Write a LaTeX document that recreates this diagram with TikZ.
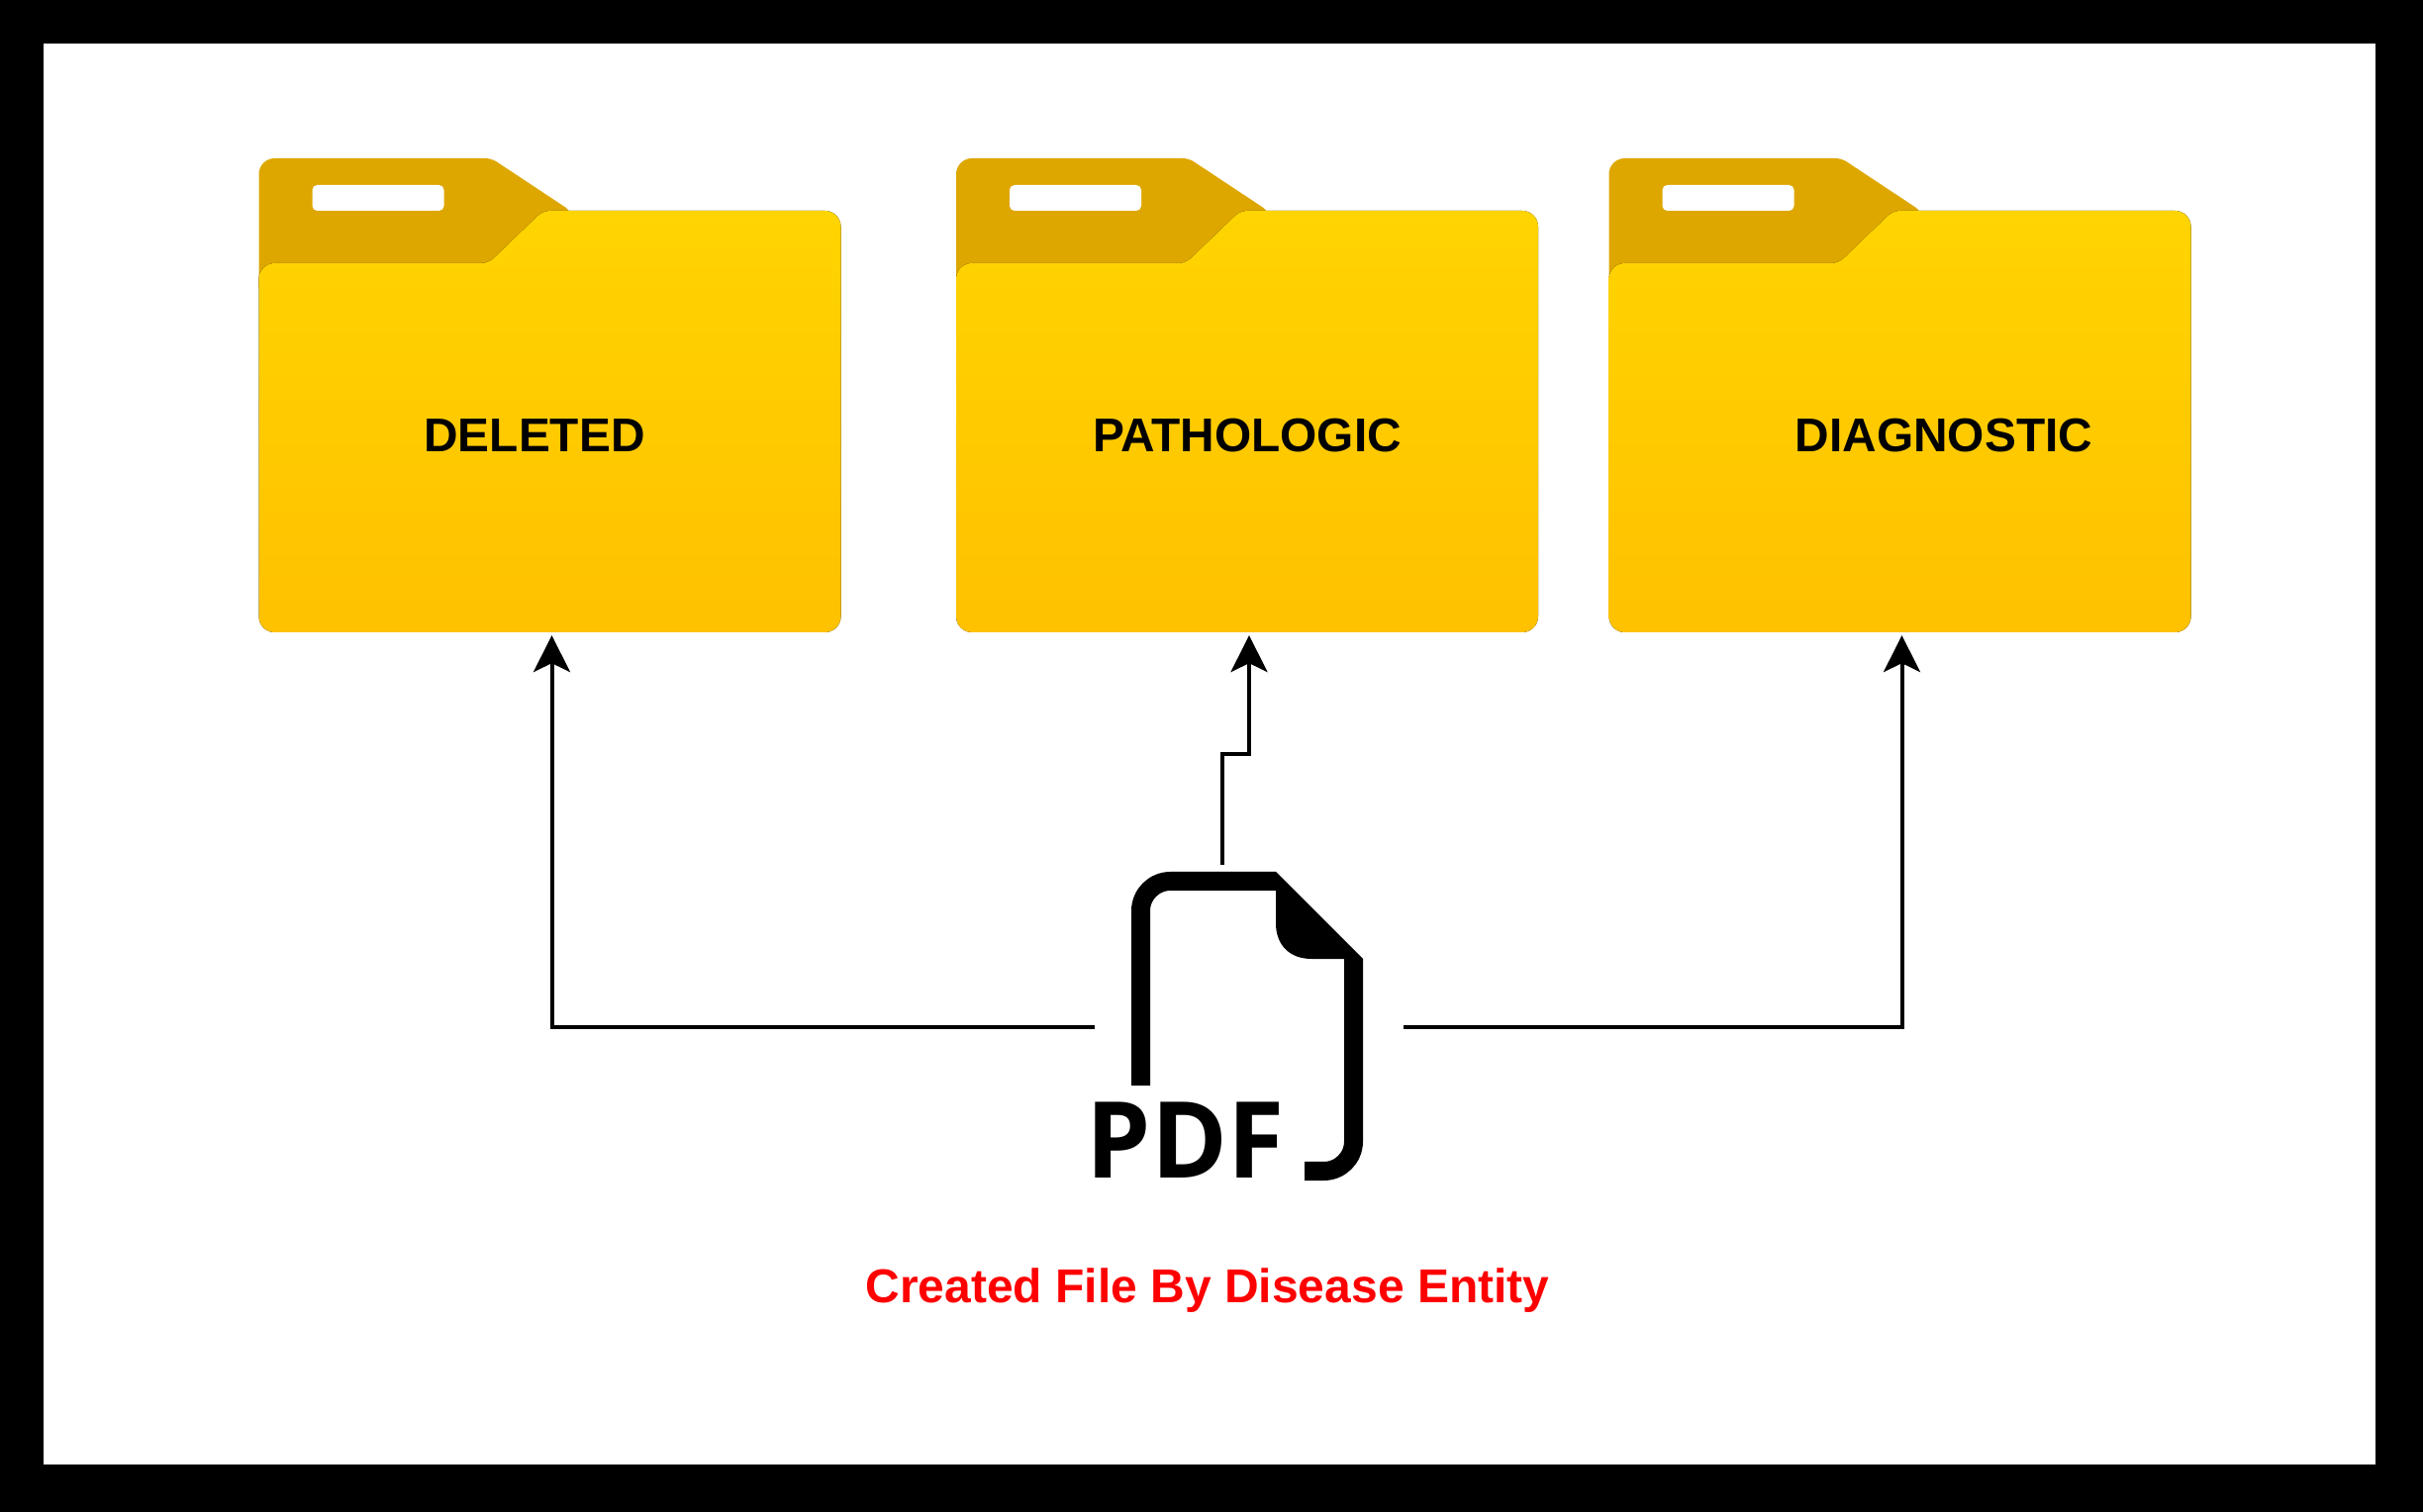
\documentclass[tikz,border=0pt]{standalone}
\usepackage{fontspec}
\setmainfont{Liberation Sans}
\newfontfamily\iconfont{Open Sans}
\usetikzlibrary{arrows.meta,positioning,calc}
\definecolor{foldertop}{RGB}{255,212,0}
\definecolor{folderbottom}{RGB}{255,193,0}
\definecolor{foldertab}{RGB}{222,167,0}

\tikzset{
  folder/.pic={
    \fill[foldertab] (0,130) [rounded corners=1.6mm] -- (0,0) [rounded corners=0.6mm] -- (235,0) -- (315,53) [sharp corners] -- (315,130) -- cycle;
    \fill[white,rounded corners=0.5mm] (54,27) rectangle (187,53);
    \fill[top color=foldertop,bottom color=folderbottom,rounded corners=1.6mm]
      (0,479) -- (0,106) [rounded corners=0.7mm] -- (232,106) -- (287,53) [rounded corners=1.6mm] -- (588,53) -- (588,479) -- cycle;
    \node[folderbox] (-box) at (296,241) {};
  }
}

\begin{document}
\begin{tikzpicture}[
    x=0.01cm,y=-0.01cm,
    folderbox/.style={minimum width=5.9cm,minimum height=4.82cm,inner sep=0pt,outer sep=0pt},
    label/.style={font=\fontsize{13.6}{16}\selectfont\bfseries,inner sep=0pt},
    arrow/.style={-{Stealth[length=3.7mm,width=3.7mm,inset=0.9mm]},line width=0.4mm},
    docline/.style={line width=1.9mm,rounded corners=3mm}
  ]
    \fill[black] (0,0) rectangle (2448,1528);
    \fill[white] (44,44) rectangle (2400,1480);

    \pic (deleted) at (261.5,160) {folder};
    \pic (pathologic) at (966,160) {folder};
    \pic (diagnostic) at (1625.5,160) {folder};

    \node[label] (deletedtext) at (540,440) {DELETED};
    \node[label] (pathologictext) at (1260,440) {PATHOLOGIC};
    \node[label] (diagnostictext) at (1964,440) {DIAGNOSTIC};

    % pdf icon
    \draw[docline] (1152.5,1097) -- (1152.5,890.5) -- (1289,890.5);
    \draw[docline] (1318,1183.5) -- (1367.5,1183.5) -- (1367.5,969);
    \fill (1289,881) -- (1377,969) -- (1325,969)
      .. controls (1303,969) and (1289,955) .. (1289,933) -- cycle;
    \node[font=\iconfont\fontsize{30.5}{36}\selectfont\bfseries,inner sep=0pt,anchor=base west,xscale=0.97] (pdfname) at (1097,1190) {PDF};

    \node[font=\fontsize{13.65}{18}\selectfont\bfseries,text=red,inner sep=0pt] (caption) at (1220,1304) {Created File By Disease Entity};

    \coordinate (pdfleft) at (1106,1038);
    \coordinate (pdfright) at (1418,1038);
    \coordinate (pdftop) at (1235,874);

    \draw[arrow] (pdfleft) -| (deleted-box.south);
    \draw[arrow] (pdftop) -- ++(0,-112) -| (pathologic-box.south);
    \draw[arrow] (pdfright) -| (diagnostic-box.south);
  \end{tikzpicture}
\end{document}
